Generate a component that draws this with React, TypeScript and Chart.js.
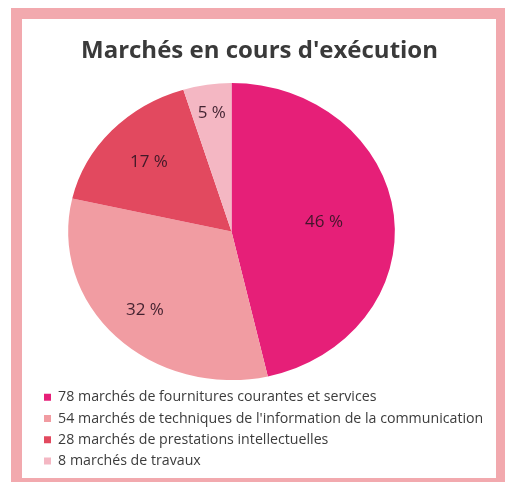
import React, { useEffect, useRef } from "react";
import { Chart, registerables } from "chart.js";

Chart.register(...registerables);

// Contract counts by type of market
const marketCounts = [78, 54, 28, 8];
const marketKinds = [
  "fournitures courantes et services",
  "techniques de l'information de la communication",
  "prestations intellectuelles",
  "travaux",
];
const legendLabels = marketKinds.map((k, i) => `${marketCounts[i]} marchés de ${k}`);
const chartTitle = "Marchés en cours d'exécution";

const sliceColors = ["#e61f78", "#f19ca2", "#e2495f", "#f4b7c3"];
const FONT = "'Open Sans', 'DejaVu Sans', sans-serif";

// Widens the pie into a slight ellipse (and shifts it left of the title axis),
// then writes each slice's share inside it.
const ellipsePie = {
  id: "ellipsePie",
  beforeDatasetsDraw(chart: any, _args: any, opts: any) {
    const meta = chart.getDatasetMeta(0);
    const cx = meta.data[0].x;
    const ctx = chart.ctx;
    ctx.save();
    ctx.translate(cx + opts.shiftX, 0);
    ctx.scale(opts.stretchX, 1);
    ctx.translate(-cx, 0);
  },
  afterDatasetsDraw(chart: any, _args: any, opts: any) {
    const ctx = chart.ctx;
    ctx.restore();
    const meta = chart.getDatasetMeta(0);
    const values = chart.data.datasets[0].data as number[];
    const total = values.reduce((a, b) => a + b, 0);
    ctx.save();
    ctx.font = `${opts.labelSize}px ${FONT}`;
    ctx.fillStyle = opts.labelColor;
    ctx.textAlign = "center";
    ctx.textBaseline = "middle";
    meta.data.forEach((arc: any, i: number) => {
      const p = arc.getProps(["x", "y", "startAngle", "endAngle", "outerRadius"], true);
      const mid = (p.startAngle + p.endAngle) / 2;
      const r = p.outerRadius * opts.labelRadii[i];
      const pct = Math.round((values[i] / total) * 100);
      const lx = p.x + opts.shiftX + Math.cos(mid) * r * opts.stretchX;
      const ly = p.y + Math.sin(mid) * r;
      ctx.fillText(`${pct} %`, lx, ly);
    });
    ctx.restore();
  },
};

export default function App() {
  const canvasRef = useRef<HTMLCanvasElement | null>(null);

  useEffect(() => {
    const canvas = canvasRef.current;
    if (!canvas) return;
    const chart = new Chart(canvas, {
      type: "pie",
      data: {
        labels: legendLabels,
        datasets: [
          {
            data: marketCounts,
            backgroundColor: sliceColors,
            borderWidth: 0,
            radius: 148.5,
          },
        ],
      },
      options: {
        responsive: false,
        animation: false,
        devicePixelRatio: 1,
        events: [],
        layout: { padding: { left: 15, right: 14, top: 0, bottom: 4 } },
        plugins: {
          tooltip: { enabled: false },
          title: {
            display: true,
            text: chartTitle,
            color: "#3a3a3a",
            font: { family: FONT, size: 24, weight: "bold" },
            padding: { top: 36.4, bottom: 14.8 },
          },
          legend: {
            position: "bottom",
            align: "start",
            labels: {
              boxWidth: 7,
              boxHeight: 7,
              padding: 7,
              color: "#3c3c3c",
              font: { family: FONT, size: 14.2 },
            },
          },
          ellipsePie: {
            stretchX: 1.1,
            shiftX: -28,
            labelRadii: [0.57, 0.75, 0.69, 0.81],
            labelSize: 17,
            labelColor: "rgba(48,20,34,0.9)",
          },
        } as any,
      },
      plugins: [ellipsePie],
    });
    return () => chart.destroy();
  }, []);

  return (
    <div
      style={{
        position: "fixed",
        left: 0,
        top: 0,
        width: 505,
        height: 482,
        overflow: "hidden",
        background: "#ffffff",
      }}
    >
      <div
        style={{
          position: "absolute",
          left: 11,
          top: 8,
          width: 494,
          height: 474,
          background: "#f2a9ae",
        }}
      />
      <div
        style={{
          position: "absolute",
          left: 22,
          top: 19,
          width: 474,
          height: 459,
          background: "#ffffff",
        }}
      />
      <canvas
        ref={canvasRef}
        width={474}
        height={482}
        style={{ position: "absolute", left: 22, top: 0 }}
      />
    </div>
  );
}
